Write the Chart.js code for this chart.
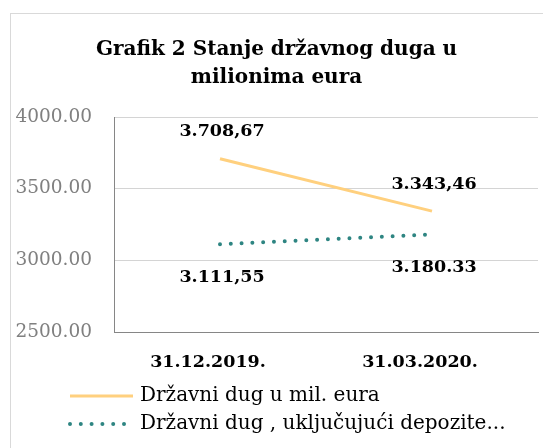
<!DOCTYPE html>
<html>
<head>
<meta charset="utf-8">
<script src="https://cdn.jsdelivr.net/npm/chart.js@4"></script>
<style>
  html, body { margin: 0; padding: 0; background: #fff; }
  canvas { display: block; }
</style>
</head>
<body>
<canvas id="chart" width="543" height="448"></canvas>
<script>
const categories = ["31.12.2019.", "31.03.2020."];
const seriesNames = ["Državni dug u mil. eura", "Državni dug , uključujući depozite..."];
const debtValues = [3708.67, 3343.46];
const debtWithDepositsValues = [3111.55, 3180.33];
const debtLabels = ["3.708,67", "3.343,46"];
const depositLabels = ["3.111,55", "3.180.33"];
const yTicks = [2500, 3000, 3500, 4000];

const serif = "'DejaVu Serif', serif";
const orange = "#FFD07E";
const teal = "#2E8582";

// chart frame
const frame = {
  id: "frame",
  beforeDraw(chart) {
    const ctx = chart.ctx;
    ctx.save();
    ctx.strokeStyle = "#d9d9d9";
    ctx.lineWidth = 1;
    ctx.strokeRect(10.5, 13.5, 700, 700);
    ctx.restore();
  }
};

// value labels above / below points
const valueLabels = {
  id: "valueLabels",
  afterDatasetsDraw(chart) {
    const ctx = chart.ctx;
    ctx.save();
    ctx.font = "bold 17.5px " + serif;
    ctx.fillStyle = "#000";
    ctx.textAlign = "center";
    ctx.textBaseline = "middle";
    chart.data.datasets.forEach((ds, i) => {
      const meta = chart.getDatasetMeta(i);
      meta.data.forEach((pt, j) => {
        const dy = ds.labelPos === "above" ? -28 : 32;
        ctx.fillText(ds.valueText[j], pt.x + 2, pt.y + dy + 1);
      });
    });
    ctx.restore();
  }
};

// legend, left aligned rows
const bottomLegend = {
  id: "bottomLegend",
  afterDraw(chart) {
    const ctx = chart.ctx;
    ctx.save();
    ctx.font = "20px " + serif;
    ctx.fillStyle = "#000";
    ctx.textAlign = "left";
    ctx.textBaseline = "middle";
    chart.data.datasets.forEach((ds, i) => {
      const y = 396 + i * 28;
      ctx.beginPath();
      ctx.strokeStyle = ds.borderColor;
      ctx.lineWidth = ds.borderWidth;
      ctx.lineCap = ds.borderCapStyle || "butt";
      ctx.setLineDash(ds.borderDash || []);
      ctx.moveTo(70, y);
      ctx.lineTo(ds.borderDash ? 128 : 133, y);
      ctx.stroke();
      ctx.setLineDash([]);
      ctx.fillText(ds.label, 140, y);
    });
    ctx.restore();
  }
};

new Chart(document.getElementById("chart"), {
  type: "line",
  data: {
    labels: categories,
    datasets: [
      {
        label: seriesNames[0],
        data: debtValues,
        valueText: debtLabels,
        labelPos: "above",
        borderColor: orange,
        borderWidth: 3,
        pointRadius: 0,
        tension: 0
      },
      {
        label: seriesNames[1],
        data: debtWithDepositsValues,
        valueText: depositLabels,
        labelPos: "below",
        borderColor: teal,
        borderWidth: 4,
        borderDash: [0, 10.8],
        borderCapStyle: "round",
        pointRadius: 0,
        tension: 0
      }
    ]
  },
  options: {
    responsive: false,
    animation: false,
    layout: { padding: { left: 15, right: 5, top: 0, bottom: 73 } },
    plugins: {
      legend: { display: false },
      tooltip: { enabled: false },
      title: {
        display: true,
        text: ["Grafik 2 Stanje državnog duga u", "milionima eura"],
        color: "#000",
        font: { family: serif, size: 20, weight: "bold", lineHeight: 1.4 },
        padding: { top: 36, bottom: 25 }
      }
    },
    scales: {
      x: {
        offset: true,
        grid: { display: false, drawTicks: false },
        border: { color: "#868686", width: 1 },
        ticks: {
          color: "#000",
          font: { family: serif, size: 17.5, weight: "bold" },
          padding: 20,
          labelOffset: -12
        },
        afterFit(scale) { scale.height = 43; }
      },
      y: {
        min: 2500,
        max: 4000,
        grid: { color: "#d4d4d4", drawTicks: false },
        border: { color: "#868686", width: 1 },
        ticks: {
          color: "#808080",
          font: { family: serif, size: 18.5 },
          padding: 22,
          callback: (v) => v.toFixed(2)
        },
        afterBuildTicks(scale) { scale.ticks = yTicks.map((v) => ({ value: v })); },
        afterFit(scale) { scale.width = 99; }
      }
    }
  },
  plugins: [frame, valueLabels, bottomLegend]
});
</script>
</body>
</html>
